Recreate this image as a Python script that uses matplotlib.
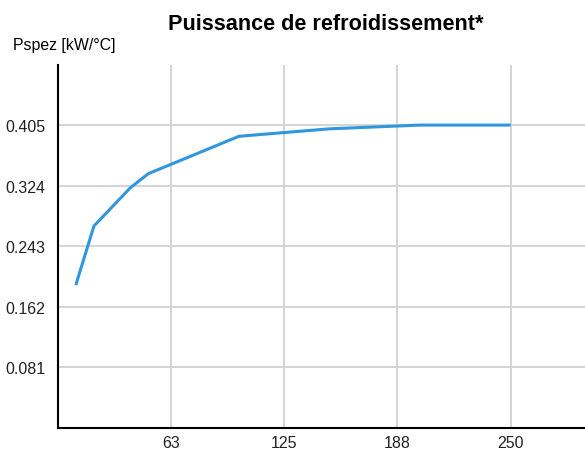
import matplotlib
matplotlib.use("Agg")
import matplotlib.pyplot as plt

# values
x_values = [10, 20, 40, 50, 100, 150, 200, 250]
p_spez = [0.191, 0.270, 0.321, 0.340, 0.390, 0.400, 0.405, 0.405]
x_ticks = [62.5, 125, 187.5, 250]
x_tick_labels = ["63", "125", "188", "250"]
y_ticks = [0.081, 0.162, 0.243, 0.324, 0.405]
y_tick_labels = ["0.081", "0.162", "0.243", "0.324", "0.405"]

plt.rcParams["font.family"] = ["Liberation Sans", "DejaVu Sans"]

fig = plt.figure(figsize=(5.85, 4.6), dpi=100)
ax = fig.add_axes([0.0986, 0.0674, 0.9014, 0.7902])

ax.plot(x_values, p_spez, color="#2f97de", linewidth=2.2, solid_capstyle="butt")

ax.set_xlim(0, 291)
ax.set_ylim(0, 0.486)
ax.set_xticks(x_ticks)
ax.set_xticklabels(x_tick_labels)
ax.set_yticks(y_ticks)
ax.set_yticklabels(y_tick_labels)
ax.tick_params(length=0, labelsize=11.5, colors="#222222")
ax.tick_params(axis="x", pad=5)
ax.tick_params(axis="y", pad=9)

ax.grid(True, color="#d4d4d4", linewidth=1.4)
ax.set_axisbelow(True)
for side in ["top", "right"]:
    ax.spines[side].set_visible(False)
for side in ["left", "bottom"]:
    ax.spines[side].set_linewidth(1.5)
    ax.spines[side].set_color("black")

fig.text(0.556, 0.946, "Puissance de refroidissement*", ha="center", va="center",
         fontsize=15.6, fontweight="bold")
fig.text(0.0217, 0.9007, "Pspez [kW/°C]", ha="left", va="center", fontsize=11.4)

fig.savefig("out.png", dpi=100)
